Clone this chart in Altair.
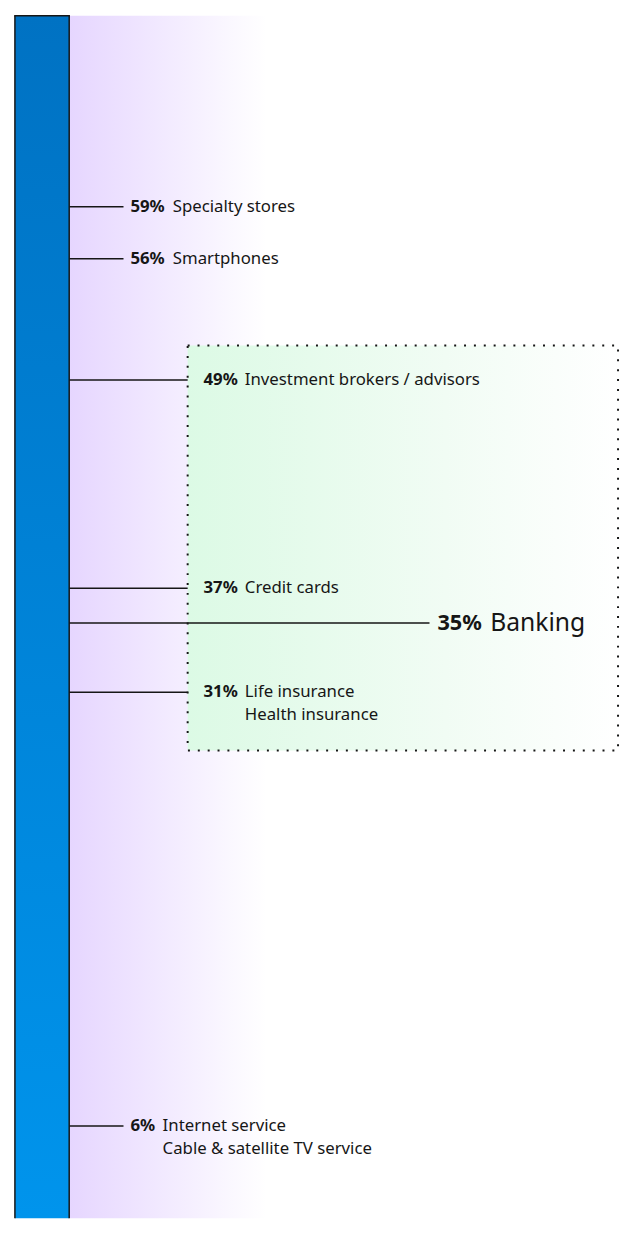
import altair as alt
import pandas as pd

# ---- data ----
values = [59, 56, 49, 37, 35, 31, 6]
names_line1 = ["Specialty stores", "Smartphones", "Investment brokers / advisors",
               "Credit cards", "Banking", "Life insurance", "Internet service"]
names_line2 = ["", "", "", "", "", "Health insurance", "Cable & satellite TV service"]
groups = ["outside", "outside", "box", "box", "focus", "box", "outside"]
scale_domain = [0, 70]

df = pd.DataFrame({"value": values, "name1": names_line1, "name2": names_line2, "group": groups})
one = pd.DataFrame({"k": [0]})

W, H = 621, 1218
FONT = "Noto Sans"
INK = "#161616"
yscale = alt.Scale(domain=scale_domain, nice=False, zero=False, range=[1230, 0])

base = alt.Chart(df).transform_calculate(pct="datum.value + '%'")

# purple background glow beside the bar
purple = alt.Chart(one).mark_rect(
    fill=alt.LinearGradient(gradient="linear", x1=0, x2=1, y1=0, y2=0,
                            stops=[alt.GradientStop(color="#e6d6ff", offset=0),
                                   alt.GradientStop(color="#ffffff", offset=1)])
).encode(x=alt.value(62), x2=alt.value(262), y=alt.value(0), y2=alt.value(H))

# highlight box around financial categories
box_src = alt.Chart(df).transform_filter(
    "datum.group == 'box' || datum.group == 'focus'"
).transform_aggregate(top="max(value)", bottom="min(value)")
box_fill = box_src.mark_rect(
    yOffset=-35, y2Offset=59,
    fill=alt.LinearGradient(gradient="linear", x1=0, x2=1, y1=0, y2=0,
                            stops=[alt.GradientStop(color="#dcfae5", offset=0),
                                   alt.GradientStop(color="#f1fcf4", offset=0.6),
                                   alt.GradientStop(color="#ffffff", offset=1)])
).encode(x=alt.value(182), x2=alt.value(618),
         y=alt.Y("top:Q", scale=yscale, axis=None), y2="bottom:Q")
box_line = box_src.mark_rect(
    yOffset=-35, y2Offset=59, fillOpacity=0, stroke=INK, strokeWidth=2,
    strokeDash=[2, 8]
).encode(x=alt.value(182), x2=alt.value(618),
         y=alt.Y("top:Q", scale=yscale, axis=None), y2="bottom:Q")

layers = [purple, box_fill, box_line]

# gradient scale bar (top at the scale maximum, runs to the bottom of the view)
bar_src = alt.Chart(one).transform_calculate(vtop=str(scale_domain[1]))
bar = bar_src.mark_rect(
    fill=alt.LinearGradient(gradient="linear", x1=0, x2=0, y1=0, y2=1,
                            stops=[alt.GradientStop(color="#0072c3", offset=0),
                                   alt.GradientStop(color="#0094ec", offset=1)])
).encode(x=alt.value(7), x2=alt.value(62),
         y=alt.Y("vtop:Q", scale=yscale, axis=None), y2=alt.value(H))
bar_left = bar_src.mark_rule(color=INK, strokeWidth=1.5).encode(
    x=alt.value(7), y=alt.Y("vtop:Q", scale=yscale, axis=None), y2=alt.value(H))
bar_right = bar_src.mark_rule(color=INK, strokeWidth=1.5).encode(
    x=alt.value(62), y=alt.Y("vtop:Q", scale=yscale, axis=None), y2=alt.value(H))
bar_top = bar_src.mark_rule(color=INK, strokeWidth=1.5).encode(
    x=alt.value(6.25), x2=alt.value(62.75), y=alt.Y("vtop:Q", scale=yscale, axis=None))
layers += [bar]

cfg = {
    "outside": dict(rule_end=117, pct_x=124, size=17, nsize=17, char=10.3, gap=12),
    "box": dict(rule_end=182, pct_x=198, size=17, nsize=17, char=10.3, gap=11),
    "focus": dict(rule_end=427, pct_x=435, size=22, nsize=25, char=14.5, gap=10),
}
for g, c in cfg.items():
    sub = base.transform_filter(f"datum.group == '{g}'")
    rule = sub.mark_rule(color=INK, strokeWidth=1.5).encode(
        x=alt.value(62), x2=alt.value(c["rule_end"]),
        y=alt.Y("value:Q", scale=yscale, axis=None))
    pct = sub.mark_text(align="left", baseline="middle", font=FONT, fontSize=c["size"],
                        fontWeight="bold", color=INK).encode(
        x=alt.value(c["pct_x"]), y=alt.Y("value:Q", scale=yscale, axis=None),
        text="pct:N")
    nm = sub.transform_calculate(
        nx=f"{c['pct_x']} + length(datum.pct) * {c['char']} + {c['gap']}")
    n1 = nm.mark_text(align="left", baseline="middle", font=FONT, fontSize=c["nsize"],
                      color=INK).encode(
        x=alt.X("nx:Q", scale=None), y=alt.Y("value:Q", scale=yscale, axis=None),
        text="name1:N")
    n2 = nm.mark_text(align="left", baseline="middle", font=FONT, fontSize=c["nsize"],
                      color=INK, dy=23).encode(
        x=alt.X("nx:Q", scale=None), y=alt.Y("value:Q", scale=yscale, axis=None),
        text="name2:N")
    layers += [rule, pct, n1, n2]

layers += [bar_left, bar_right, bar_top]

chart = alt.layer(*layers).properties(
    width=W, height=H, padding=0, autosize=alt.AutoSizeParams(type="none")
).configure_view(stroke=None)

chart.save("out.html", embed_options={"renderer": "svg", "actions": False})
